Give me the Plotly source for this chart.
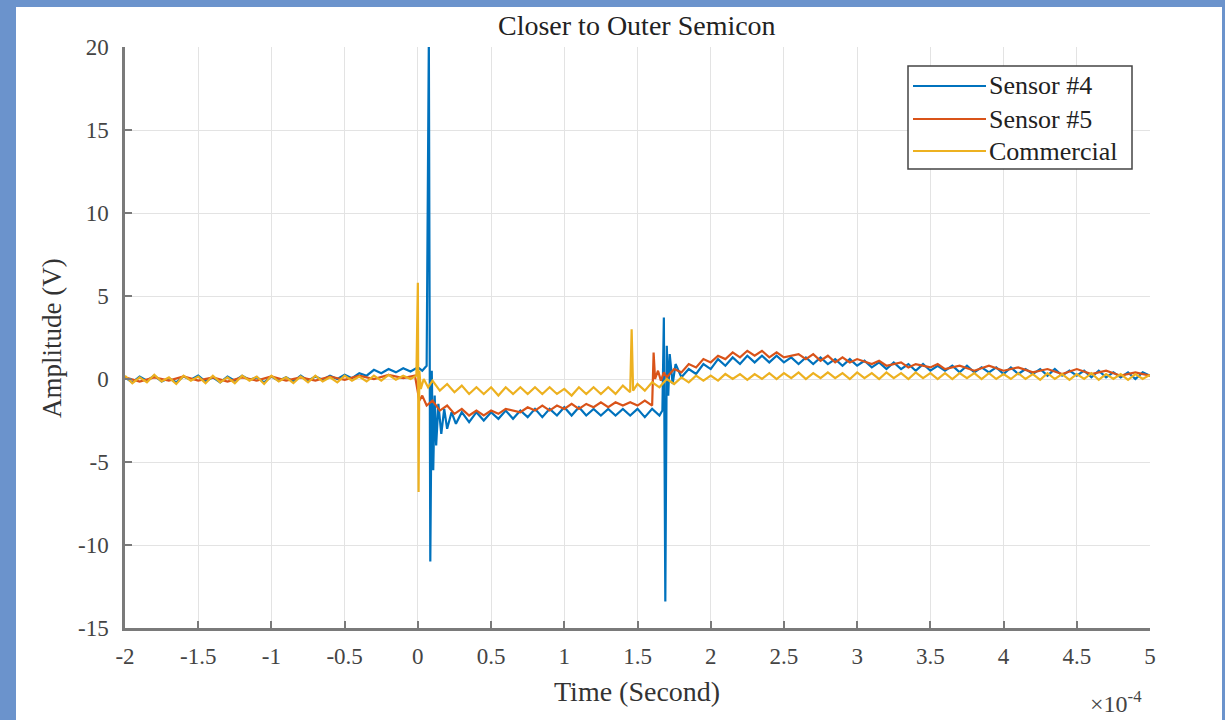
import plotly.graph_objects as go

# time in units of 1e-4 s
s4_t = [-2.00,-1.95,-1.90,-1.85,-1.80,-1.75,-1.70,-1.65,-1.60,-1.55,-1.50,-1.45,-1.40,-1.35,-1.30,-1.25,-1.20,-1.15,-1.10,-1.05,
        -1.00,-0.95,-0.90,-0.85,-0.80,-0.75,-0.70,-0.65,-0.60,-0.55,-0.50,-0.45,-0.40,-0.35,-0.30,-0.25,-0.20,-0.15,-0.10,-0.05,
        0.00,0.03,0.06,0.075,0.085,0.095,0.105,0.115,0.125,0.14,0.16,0.18,0.20,0.23,0.26,0.30,0.35,0.40,0.45,0.50,
        0.55,0.60,0.65,0.70,0.75,0.80,0.85,0.90,0.95,1.00,1.05,1.10,1.15,1.20,1.25,1.30,1.35,1.40,1.45,1.50,
        1.55,1.60,1.65,1.67,1.68,1.69,1.70,1.71,1.72,1.74,1.76,1.80,1.85,1.90,1.95,2.00,2.05,2.10,2.15,2.20,
        2.25,2.30,2.35,2.40,2.45,2.50,2.55,2.60,2.65,2.70,2.75,2.80,2.85,2.90,2.95,3.00,3.05,3.10,3.15,3.20,
        3.25,3.30,3.35,3.40,3.45,3.50,3.55,3.60,3.65,3.70,3.75,3.80,3.85,3.90,3.95,4.00,4.05,4.10,4.15,4.20,
        4.25,4.30,4.35,4.40,4.45,4.50,4.55,4.60,4.65,4.70,4.75,4.80,4.85,4.90,4.95,5.00]
s4_v = [0.1,-0.2,0.15,-0.1,0.2,-0.15,0.05,-0.2,0.15,-0.05,0.2,-0.15,0.1,-0.2,0.15,-0.1,0.2,-0.05,0.1,-0.2,
        0.15,-0.1,0.1,-0.15,0.2,-0.1,0.15,-0.05,0.2,0.0,0.25,0.05,0.35,0.2,0.55,0.35,0.6,0.4,0.65,0.45,
        0.7,0.5,0.8,20.5,-11.0,0.5,-5.5,-1.0,-4.0,-1.5,-3.3,-1.8,-3.0,-2.0,-2.7,-2.0,-2.6,-2.0,-2.5,-2.0,
        -2.4,-1.9,-2.4,-1.9,-2.3,-1.8,-2.3,-1.8,-2.2,-1.7,-2.2,-1.7,-2.2,-1.8,-2.2,-1.8,-2.2,-1.8,-2.2,-1.8,
        -2.3,-1.8,-2.2,-1.9,3.7,-13.4,2.0,-1.0,1.5,-0.3,0.9,0.1,0.6,0.3,0.9,0.6,1.2,0.8,1.3,0.9,
        1.4,1.0,1.4,1.0,1.4,1.0,1.3,0.9,1.3,0.9,1.3,0.9,1.2,0.8,1.2,0.8,1.1,0.7,1.0,0.6,
        1.0,0.6,0.9,0.5,0.9,0.5,0.8,0.5,0.8,0.4,0.8,0.4,0.7,0.4,0.7,0.3,0.7,0.3,0.6,0.3,
        0.6,0.2,0.6,0.2,0.5,0.2,0.5,0.1,0.5,0.1,0.4,0.1,0.4,0.0,0.4,0.2]

s5_t = [-2.0,-1.9,-1.8,-1.7,-1.6,-1.5,-1.4,-1.3,-1.2,-1.1,-1.0,-0.9,-0.8,-0.7,-0.6,-0.5,-0.4,-0.3,-0.2,-0.1,-0.02,
        0.00,0.01,0.03,0.06,0.10,0.15,0.20,0.25,0.30,0.35,0.40,0.45,0.50,0.55,0.60,0.70,0.75,0.80,0.85,0.90,0.95,
        1.00,1.05,1.10,1.15,1.20,1.25,1.30,1.35,1.40,1.45,1.50,1.55,1.60,1.61,1.62,1.64,1.66,1.68,1.70,1.75,
        1.80,1.85,1.90,1.95,2.00,2.05,2.10,2.15,2.20,2.25,2.30,2.35,2.40,2.45,2.50,2.60,2.65,2.70,2.75,2.80,
        2.85,2.90,2.95,3.00,3.10,3.15,3.20,3.30,3.35,3.40,3.50,3.55,3.60,3.70,3.80,3.90,4.00,4.10,4.20,4.30,
        4.40,4.50,4.60,4.70,4.80,4.90,5.00]
s5_v = [0.1,-0.15,0.1,-0.1,0.15,-0.1,0.1,-0.15,0.1,-0.1,0.15,-0.1,0.1,-0.1,0.15,-0.05,0.2,0.0,0.25,0.05,0.2,
        -1.0,-1.3,-1.0,-1.6,-1.3,-1.9,-1.6,-2.1,-1.8,-2.2,-1.9,-2.2,-1.9,-2.1,-1.8,-2.0,-1.7,-1.9,-1.6,-1.9,-1.6,
        -1.8,-1.5,-1.8,-1.5,-1.7,-1.4,-1.7,-1.4,-1.6,-1.4,-1.6,-1.3,-1.6,1.6,0.0,0.5,-0.1,0.4,0.1,0.6,
        0.4,0.9,0.7,1.2,1.0,1.4,1.2,1.6,1.3,1.7,1.4,1.7,1.3,1.6,1.3,1.5,1.2,1.5,1.1,1.4,
        1.0,1.3,1.0,1.2,0.9,1.1,0.8,1.0,0.7,0.9,0.7,0.9,0.6,0.8,0.5,0.8,0.5,0.7,0.4,0.6,
        0.3,0.6,0.3,0.5,0.2,0.4,0.2]

com_t = [-2.00,-1.95,-1.90,-1.85,-1.80,-1.75,-1.70,-1.65,-1.60,-1.55,-1.50,-1.45,-1.40,-1.35,-1.30,-1.25,-1.20,-1.15,-1.10,-1.05,
         -1.00,-0.95,-0.90,-0.85,-0.80,-0.75,-0.70,-0.65,-0.60,-0.55,-0.50,-0.45,-0.40,-0.35,-0.30,-0.25,-0.20,-0.15,-0.10,-0.05,
         -0.01,0.00,0.005,0.01,0.02,0.04,0.07,0.10,0.15,0.20,0.25,0.30,0.35,0.40,0.45,0.50,0.55,0.60,0.65,0.70,
         0.75,0.80,0.85,0.90,0.95,1.00,1.05,1.10,1.15,1.20,1.25,1.30,1.35,1.40,1.45,1.46,1.47,1.50,1.55,1.60,
         1.65,1.70,1.75,1.80,1.85,1.90,1.95,2.00,2.05,2.10,2.15,2.20,2.25,2.30,2.35,2.40,2.45,2.50,2.55,2.60,
         2.65,2.70,2.75,2.80,2.85,2.90,2.95,3.00,3.05,3.10,3.15,3.20,3.25,3.30,3.35,3.40,3.45,3.50,3.55,3.60,
         3.65,3.70,3.75,3.80,3.85,3.90,3.95,4.00,4.05,4.10,4.15,4.20,4.25,4.30,4.35,4.40,4.45,4.50,4.55,4.60,
         4.65,4.70,4.75,4.80,4.85,4.90,4.95,5.00]
com_v = [0.2,-0.25,0.1,-0.2,0.25,-0.15,0.1,-0.3,0.2,-0.1,0.15,-0.25,0.2,-0.2,0.1,-0.25,0.2,-0.1,0.15,-0.3,
         0.2,-0.15,0.1,-0.25,0.15,-0.2,0.2,-0.15,0.1,-0.2,0.2,-0.1,0.15,-0.15,0.2,-0.1,0.25,-0.05,0.2,0.0,
         0.2,5.8,-6.8,0.5,-0.6,0.0,-0.5,-0.1,-0.7,-0.3,-0.8,-0.4,-0.9,-0.5,-0.9,-0.5,-1.0,-0.5,-0.9,-0.5,
         -0.9,-0.5,-0.9,-0.5,-0.9,-0.6,-1.0,-0.5,-0.9,-0.5,-0.9,-0.5,-0.9,-0.4,-0.8,3.0,-0.7,-0.3,-0.7,-0.2,
         -0.5,0.0,-0.3,0.1,-0.2,0.2,-0.1,0.2,-0.1,0.3,0.0,0.3,-0.05,0.3,0.0,0.35,0.0,0.35,0.05,0.4,
         0.0,0.35,0.05,0.4,0.05,0.35,0.0,0.4,0.05,0.35,0.0,0.4,0.05,0.35,0.0,0.4,0.05,0.35,0.0,0.35,
         0.0,0.35,0.05,0.35,0.0,0.35,0.0,0.3,0.0,0.35,0.0,0.3,-0.05,0.35,0.0,0.3,-0.05,0.3,0.0,0.35,
         -0.05,0.3,0.0,0.3,-0.05,0.3,0.0,0.25]

series_names = ["Sensor #4", "Sensor #5", "Commercial"]
x_ticks = [-2, -1.5, -1, -0.5, 0, 0.5, 1, 1.5, 2, 2.5, 3, 3.5, 4, 4.5, 5]
x_tick_labels = ["-2", "-1.5", "-1", "-0.5", "0", "0.5", "1", "1.5", "2", "2.5", "3", "3.5", "4", "4.5", "5"]
y_ticks = [-15, -10, -5, 0, 5, 10, 15, 20]
y_tick_labels = ["-15", "-10", "-5", "0", "5", "10", "15", "20"]

FONT = "Liberation Serif, Times New Roman, serif"
BLUE = "#0072BD"
ORANGE = "#D95319"
YELLOW = "#EDB120"
SLIDE = "#6b93cc"
colors = [BLUE, ORANGE, YELLOW]

fig = go.Figure()
for name, tt, vv, c in zip(series_names, [s4_t, s5_t, com_t], [s4_v, s5_v, com_v], colors):
    fig.add_trace(go.Scatter(x=tt, y=vv, mode="lines", name=name, line=dict(color=c, width=2.2), showlegend=False))

W, H = 1225, 720
L, R, T, B = 125, 75, 47, 92
pw, ph = W - L - R, H - T - B

def px_x(p):
    return (p - L) / pw

def px_y(p):
    return (H - B - p) / ph

axis_common = dict(
    showgrid=True, gridcolor="#e3e3e3", gridwidth=1,
    showline=True, linecolor="#7a7a7a", linewidth=2.5,
    ticks="inside", ticklen=7, tickwidth=1.5, tickcolor="#7a7a7a",
    tickfont=dict(family=FONT, size=23, color="#444"),
    zeroline=False, mirror=False,
)

shapes = [
    dict(type="rect", xref="paper", yref="paper", x0=px_x(0), x1=px_x(16), y0=px_y(720), y1=px_y(0),
         fillcolor=SLIDE, line=dict(width=0), layer="above"),
    dict(type="rect", xref="paper", yref="paper", x0=px_x(0), x1=px_x(1225), y0=px_y(7), y1=px_y(0),
         fillcolor=SLIDE, line=dict(width=0), layer="above"),
    dict(type="rect", xref="paper", yref="paper", x0=px_x(1222), x1=px_x(1225), y0=px_y(720), y1=px_y(0),
         fillcolor=SLIDE, line=dict(width=0), layer="above"),
    # legend box
    dict(type="rect", xref="paper", yref="paper", x0=px_x(908), x1=px_x(1132), y0=px_y(169), y1=px_y(66),
         fillcolor="white", line=dict(color="#444", width=1.5), layer="above"),
]
annotations = [
    dict(text="Closer to Outer Semicon", xref="paper", yref="paper", x=px_x(637), y=px_y(26),
         showarrow=False, font=dict(family=FONT, size=28, color="#222"), xanchor="center", yanchor="middle"),
    dict(text="Time (Second)", xref="paper", yref="paper", x=px_x(637), y=px_y(691),
         showarrow=False, font=dict(family=FONT, size=28, color="#333"), xanchor="center", yanchor="middle"),
    dict(text="Amplitude (V)", xref="paper", yref="paper", x=px_x(52), y=px_y(338), textangle=-90,
         showarrow=False, font=dict(family=FONT, size=27, color="#333"), xanchor="center", yanchor="middle"),
    dict(text="×10<sup>-4</sup>", xref="paper", yref="paper", x=px_x(1116), y=px_y(702),
         showarrow=False, font=dict(family=FONT, size=24, color="#444"), xanchor="center", yanchor="middle"),
]
legend_rows = [86, 119, 151]
for name, c, row in zip(series_names, colors, legend_rows):
    shapes.append(dict(type="line", xref="paper", yref="paper", x0=px_x(913), x1=px_x(986),
                       y0=px_y(row), y1=px_y(row), line=dict(color=c, width=1.8), layer="above"))
    annotations.append(dict(text=name, xref="paper", yref="paper", x=px_x(987), y=px_y(row),
                            showarrow=False, xanchor="left", yanchor="middle",
                            font=dict(family=FONT, size=26, color="#222")))

fig.update_layout(
    width=W, height=H, autosize=False,
    margin=dict(l=L, r=R, t=T, b=B),
    paper_bgcolor="white", plot_bgcolor="white",
    font=dict(family=FONT, color="#333"),
    xaxis=dict(range=[-2, 5], tickvals=x_ticks, ticktext=x_tick_labels, ticklabelstandoff=6, **axis_common),
    yaxis=dict(range=[-15, 20], tickvals=y_ticks, ticktext=y_tick_labels, ticklabelstandoff=9, **axis_common),
    showlegend=False,
    shapes=shapes,
    annotations=annotations,
)

fig.write_html("out.html", config={"displayModeBar": False},
               post_script="document.body.style.margin='0px';document.body.style.overflow='hidden';")
